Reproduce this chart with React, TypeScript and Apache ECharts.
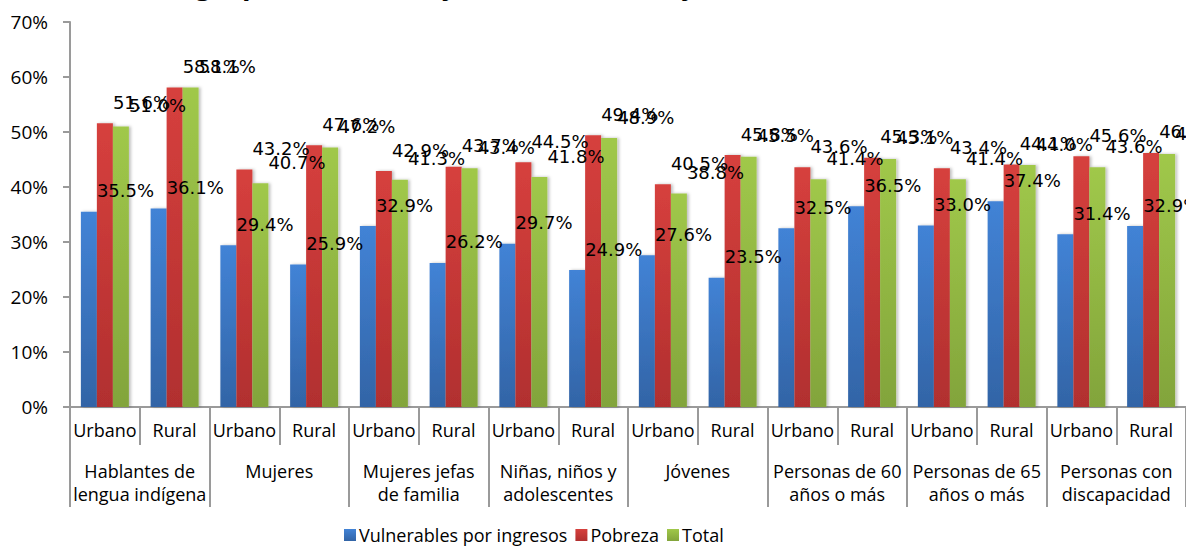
import React, { useEffect, useRef } from "react";
import * as echarts from "echarts";

const categories = [
  "Urbano", "Rural", "Urbano", "Rural", "Urbano", "Rural", "Urbano", "Rural",
  "Urbano", "Rural", "Urbano", "Rural", "Urbano", "Rural", "Urbano", "Rural",
];
const groups = [
  "Hablantes de\nlengua indígena",
  "Mujeres",
  "Mujeres jefas\nde familia",
  "Niñas, niños y\nadolescentes",
  "Jóvenes",
  "Personas de 60\naños o más",
  "Personas de 65\naños o más",
  "Personas con\ndiscapacidad",
];
const vulnerables = [35.5, 36.1, 29.4, 25.9, 32.9, 26.2, 29.7, 24.9, 27.6, 23.5, 32.5, 36.5, 33.0, 37.4, 31.4, 32.9];
const pobreza = [51.6, 58.1, 43.2, 47.6, 42.9, 43.7, 44.5, 49.4, 40.5, 45.8, 43.6, 45.3, 43.4, 44.1, 45.6, 46.2];
const total = [51.0, 58.1, 40.7, 47.2, 41.3, 43.4, 41.8, 48.9, 38.8, 45.5, 41.4, 45.1, 41.4, 44.0, 43.6, 46.0];
const yTicks = { min: 0, max: 70, interval: 10 };
const titleText = "grupo vulnerable y ámbito urbano y rural, 2010";

const FONT = "'Open Sans', sans-serif";

function grad(top: string, bottom: string) {
  return new echarts.graphic.LinearGradient(0, 0, 0, 1, [
    { offset: 0, color: top },
    { offset: 1, color: bottom },
  ]);
}

function mkSeries(name: string, data: number[], top: string, bottom: string) {
  return {
    name,
    type: "bar",
    data,
    barWidth: 16,
    barGap: "0%",
    itemStyle: {
      color: grad(top, bottom),
      shadowColor: "rgba(0,0,0,0.25)",
      shadowBlur: 3,
      shadowOffsetX: 2,
      shadowOffsetY: 0,
    },
    label: {
      show: true,
      position: ["100%", -21],
      align: "left",
      verticalAlign: "middle",
      fontFamily: "'DejaVu Sans', sans-serif",
      fontSize: 18,
      color: "#000",
      formatter: (p: any) => p.value.toFixed(1) + "%",
    },
  };
}

export default function App() {
  const ref = useRef<HTMLDivElement>(null);
  useEffect(() => {
    if (!ref.current) return;
    const chart = echarts.init(ref.current, undefined, { renderer: "svg" });
    chart.setOption({
      animation: false,
      backgroundColor: "#fff",
      textStyle: { fontFamily: FONT },
      graphic: [
        {
          type: "text",
          left: 195,
          top: -31,
          style: {
            text: titleText,
            font: "bold 28px 'Open Sans', sans-serif",
            fill: "#000",
          },
        },
      ],
      legend: {
        left: 339,
        top: 521,
        icon: "rect",
        itemWidth: 12,
        itemHeight: 12,
        itemGap: 8,
        textStyle: { fontFamily: FONT, fontSize: 18, color: "#000", padding: [0, 0, 0, -2] },
        data: ["Vulnerables por ingresos", "Pobreza", "Total"],
      },
      grid: { left: 70, top: 22, width: 1120, height: 385, containLabel: false },
      xAxis: [
        {
          type: "category",
          data: categories,
          position: "bottom",
          axisLine: { show: true, lineStyle: { color: "#9a9a9a", width: 2 } },
          axisTick: { show: true, interval: 0, length: 38, lineStyle: { color: "#9a9a9a", width: 2 } },
          axisLabel: { interval: 0, margin: 14, fontFamily: FONT, fontSize: 18, color: "#000" },
        },
        {
          type: "category",
          data: groups,
          position: "bottom",
          axisLine: { show: false },
          axisTick: { show: true, interval: 0, length: 100, lineStyle: { color: "#9a9a9a", width: 2 } },
          axisLabel: { interval: 0, margin: 52, lineHeight: 23, fontFamily: FONT, fontSize: 18, color: "#000" },
        },
      ],
      yAxis: {
        type: "value",
        min: yTicks.min,
        max: yTicks.max,
        interval: yTicks.interval,
        axisLine: { show: true, lineStyle: { color: "#9a9a9a", width: 2 } },
        axisTick: { show: true, length: 7, lineStyle: { color: "#9a9a9a", width: 2 } },
        splitLine: { show: false },
        axisLabel: { formatter: "{value}%", margin: 22, fontFamily: FONT, fontSize: 19, color: "#000" },
      },
      series: [
        mkSeries("Vulnerables por ingresos", vulnerables, "#4283d6", "#3264a6"),
        mkSeries("Pobreza", pobreza, "#d6403d", "#b12f2f"),
        mkSeries("Total", total, "#a0c84a", "#82a43b"),
      ],
    });
    return () => chart.dispose();
  }, []);
  return (
    <div
      ref={ref}
      style={{ position: "fixed", left: 0, top: 0, width: 1186, height: 548 }}
    />
  );
}
